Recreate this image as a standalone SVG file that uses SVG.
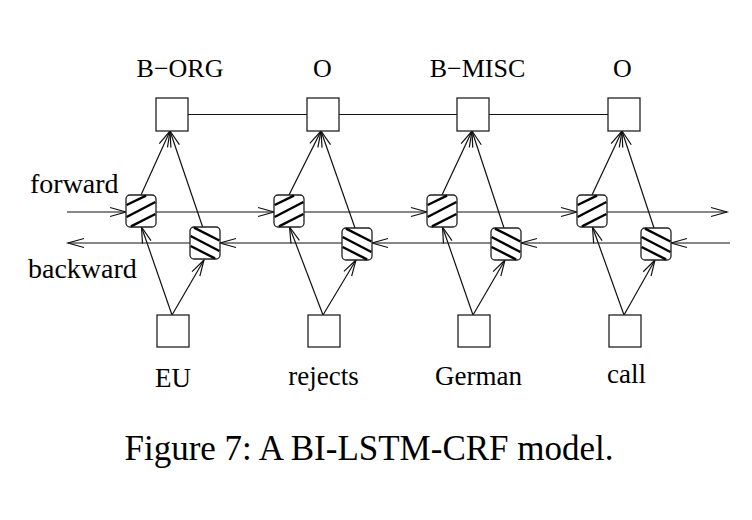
<svg xmlns="http://www.w3.org/2000/svg" xmlns:xlink="http://www.w3.org/1999/xlink" width="752" height="520" viewBox="0 0 752 520">
<style>
.bg{fill:#fff}
.box{fill:#fff;stroke:#222;stroke-width:1.3}
.cell{fill:#fff;stroke:#222;stroke-width:1.3}
.hatch{stroke:#000;stroke-width:2.4;stroke-linecap:butt}
.ln{fill:none;stroke:#111;stroke-width:1.2}
.arr{marker-end:url(#ah)}
.lbl{font-family:"Liberation Serif","Times New Roman",serif;fill:#000}
</style>
<defs>
<marker id="ah" markerUnits="userSpaceOnUse" markerWidth="18" markerHeight="12" refX="16" refY="5" orient="auto" overflow="visible">
<path d="M0,0.5 L16,5 L0,9.5" fill="none" stroke="#111" stroke-width="1.2"/>
</marker>
<g id="fc">
<rect class="cell" x="0" y="0" width="30" height="32" rx="4"/>
<line class="hatch" x1="0.6" y1="10" x2="20" y2="0.6"/>
<line class="hatch" x1="0.6" y1="22" x2="29.4" y2="7"/>
<line class="hatch" x1="5" y1="31.4" x2="29.4" y2="19"/>
</g>
<g id="bc">
<rect class="cell" x="0" y="0" width="30" height="32" rx="4"/>
<line class="hatch" x1="4" y1="0.6" x2="29.4" y2="13.5"/>
<line class="hatch" x1="0.6" y1="9" x2="29.4" y2="24"/>
<line class="hatch" x1="0.6" y1="19" x2="25" y2="31.4"/>
</g>
</defs>
<rect class="bg" x="0" y="0" width="752" height="520"/>

<g id="connectors">
<!-- top chain -->
<line class="ln" x1="188" y1="114.5" x2="307" y2="114.5"/>
<line class="ln" x1="339" y1="114.5" x2="457" y2="114.5"/>
<line class="ln" x1="489" y1="114.5" x2="608" y2="114.5"/>
<!-- forward chain -->
<line class="ln arr" x1="67" y1="212" x2="126" y2="212"/>
<line class="ln arr" x1="156" y1="212" x2="274" y2="212"/>
<line class="ln arr" x1="304" y1="212" x2="427" y2="212"/>
<line class="ln arr" x1="457" y1="212" x2="577" y2="212"/>
<line class="ln arr" x1="607" y1="212" x2="727" y2="212"/>
<!-- backward chain -->
<line class="ln arr" x1="730" y1="243" x2="671" y2="243"/>
<line class="ln arr" x1="641" y1="243" x2="521" y2="243"/>
<line class="ln arr" x1="491" y1="243" x2="372" y2="243"/>
<line class="ln arr" x1="342" y1="243" x2="220" y2="243"/>
<line class="ln arr" x1="190" y1="243" x2="68" y2="243"/>
<!-- column 1 -->
<line class="ln arr" x1="141" y1="195" x2="170" y2="131"/>
<line class="ln arr" x1="203" y1="228" x2="170" y2="131"/>
<line class="ln arr" x1="172" y1="315" x2="141.5" y2="227"/>
<line class="ln arr" x1="172" y1="315" x2="204" y2="260"/>
<!-- column 2 -->
<line class="ln arr" x1="289" y1="195" x2="321" y2="131"/>
<line class="ln arr" x1="355" y1="228" x2="321" y2="131"/>
<line class="ln arr" x1="323" y1="315" x2="289.5" y2="227"/>
<line class="ln arr" x1="323" y1="315" x2="356" y2="260"/>
<!-- column 3 -->
<line class="ln arr" x1="442" y1="195" x2="472" y2="131"/>
<line class="ln arr" x1="504" y1="228" x2="472" y2="131"/>
<line class="ln arr" x1="473" y1="315" x2="442.5" y2="227"/>
<line class="ln arr" x1="473" y1="315" x2="505" y2="260"/>
<!-- column 4 -->
<line class="ln arr" x1="592" y1="195" x2="622" y2="131"/>
<line class="ln arr" x1="654" y1="228" x2="622" y2="131"/>
<line class="ln arr" x1="624" y1="315" x2="592.5" y2="227"/>
<line class="ln arr" x1="624" y1="315" x2="655" y2="260"/>
</g>

<g id="tag1"><rect class="box" x="156" y="98" width="32" height="33"/><text class="lbl" x="180" y="77" font-size="26" text-anchor="middle">B−ORG</text></g>
<g id="tag2"><rect class="box" x="307" y="98" width="32" height="33"/><text class="lbl" x="322.5" y="77" font-size="26" text-anchor="middle">O</text></g>
<g id="tag3"><rect class="box" x="457" y="98" width="32" height="33"/><text class="lbl" x="477.5" y="77" font-size="26" text-anchor="middle">B−MISC</text></g>
<g id="tag4"><rect class="box" x="608" y="98" width="32" height="33"/><text class="lbl" x="622.5" y="77" font-size="26" text-anchor="middle">O</text></g>

<g id="fwd1"><use xlink:href="#fc" x="126" y="195"/></g>
<g id="fwd2"><use xlink:href="#fc" x="274" y="195"/></g>
<g id="fwd3"><use xlink:href="#fc" x="427" y="195"/></g>
<g id="fwd4"><use xlink:href="#fc" x="577" y="195"/></g>

<g id="bwd1"><use xlink:href="#bc" x="190" y="227"/></g>
<g id="bwd2"><use xlink:href="#bc" x="342" y="228"/></g>
<g id="bwd3"><use xlink:href="#bc" x="491" y="228"/></g>
<g id="bwd4"><use xlink:href="#bc" x="641" y="228"/></g>

<g id="word1"><rect class="box" x="157" y="315" width="32" height="32"/><text class="lbl" x="173" y="387" font-size="27" text-anchor="middle">EU</text></g>
<g id="word2"><rect class="box" x="308" y="315" width="32" height="32"/><text class="lbl" x="323.5" y="385" font-size="27" text-anchor="middle">rejects</text></g>
<g id="word3"><rect class="box" x="458" y="315" width="32" height="32"/><text class="lbl" x="478.5" y="385" font-size="27" text-anchor="middle">German</text></g>
<g id="word4"><rect class="box" x="609" y="315" width="32" height="32"/><text class="lbl" x="626.5" y="383" font-size="27" text-anchor="middle">call</text></g>

<g id="labels">
<text class="lbl" x="30" y="193" font-size="28">forward</text>
<text class="lbl" x="28" y="278" font-size="28">backward</text>
<text class="lbl" x="369" y="460" font-size="35" text-anchor="middle">Figure 7: A BI-LSTM-CRF model.</text>
</g>
</svg>
